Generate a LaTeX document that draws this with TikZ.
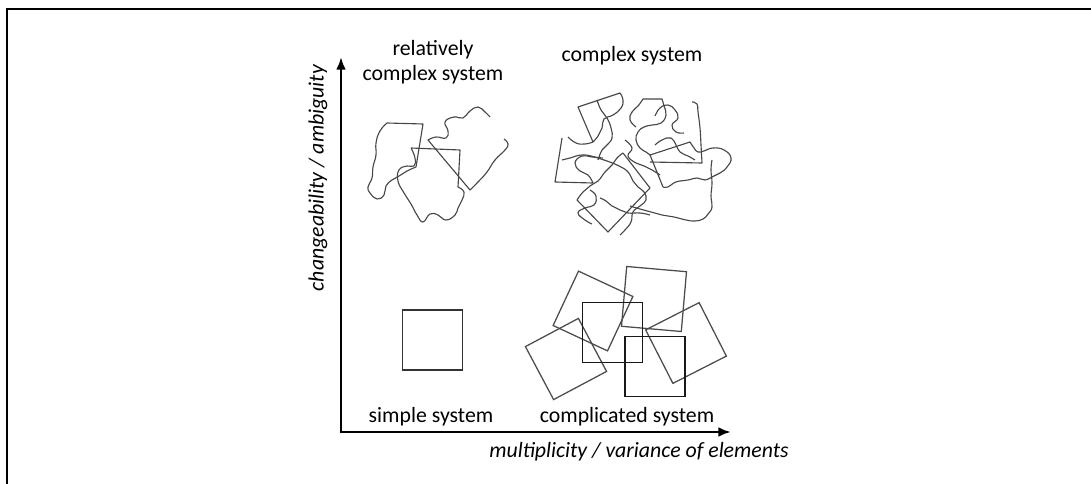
\documentclass[tikz,border=0pt]{standalone}
\usepackage{fontspec}
\setmainfont{Carlito}
\usetikzlibrary{arrows.meta}

\begin{document}
\begin{tikzpicture}[x=0.025cm,y=-0.025cm]

\tikzset{axis/.style = {line width=2.1pt,-{Latex[length=9pt,width=7pt]}}}
\tikzset{caption/.style = {font=\fontsize{15.5}{18}\selectfont, align=center, inner sep=0pt}}
\tikzset{sq/.style = {draw=black!70, line width=0.9pt, minimum size=1.5cm, inner sep=0pt}}
\tikzset{piece/.style = {draw=black!72, line width=0.8pt, line join=round}}
\useasboundingbox (0,0) rectangle (1091,484);
%frame
\draw[line width=1.9pt] (7,484) -- (7,9) -- (1091,9);
%axes
\coordinate (origin) at (341,432);
\coordinate (ytip) at (341,57);
\coordinate (xtip) at (731,432);
\draw[axis] ([xshift=-1pt]origin) -- (xtip);
\draw[axis] ([yshift=-1pt]origin) -- (ytip);
%labels
\node[caption] (relcplx) at (433,62) {relatively\\complex system};
\node[caption] (cplx) at (632,56) {complex system};
\node[caption] (simple) at (431,417) {simple system};
\node[caption] (complicated) at (627,417) {complicated system};
\node[caption, font=\fontsize{15.5}{18}\selectfont\itshape] (xlabel) at (639,452) {multiplicity / variance of elements};
\node[caption, font=\fontsize{15.5}{18}\selectfont\itshape, rotate=90] (ylabel) at (318,178) {changeability / ambiguity};
%simple system
\node[sq, draw=black!80] (single) at (432.5,340) {};
%complicated system
\node[sq, rotate=-25] (cC) at (593,311) {};
\node[sq, rotate=28] (cD) at (566,359) {};
\node[sq, rotate=-5] (cE) at (654,299) {};
\node[sq, rotate=27] (cF) at (686,343) {};
\node[sq, draw=black!90] (cA) at (612.5,332.5) {};
\node[sq, draw=black!90] (cB) at (655,366.5) {};
%relatively complex system
\draw[piece] (387,123) -- (423,124) -- (416,167) -- plot[smooth, tension=0.8] coordinates {(416,167) (407,171) (399,176) (392,180) (386,186) (384,195) (377,199) (370,193) (368,187) (372,178) (373,167) (376,155) (376,143) (380,131) (387,123)};
\draw[piece] (411,148) -- (460,150) -- (458,187) -- plot[smooth, tension=0.8] coordinates {(458,187) (464,192) (462,200) (458,208) (455,215) (446,220) (438,215) (430,214) (423,222) (417,215) (411,204) (404,193) (398,181) (399,170) (407,166) (414,166) (415,158) (411,148)};
\draw[piece] plot[smooth, tension=0.8] coordinates {(504,139) (508,144) (505,150) (495,160) (487,172) (478,182) (470,190)} -- (428,140) -- plot[smooth, tension=0.8] coordinates {(428,140) (436,137) (446,138) (448,131) (445,122) (454,117) (463,118) (470,111) (478,107) (485,112) (490,117)};
%complex system
\draw[piece] (568,137) -- plot[smooth, tension=0.8] coordinates {(568,137) (576,143) (585,144) (593,142)} -- (578,107) -- (620,93) -- plot[smooth, tension=0.8] coordinates {(620,93) (623,100) (621,108) (613,115) (604,119) (602,128) (598,136) (593,142)};
\draw[piece] (562,138) -- (555,182) -- (593,183) -- plot[smooth, tension=0.8] coordinates {(593,183) (588,175) (580,171) (575,163) (582,156) (592,157) (603,158)};
\draw[piece] (623,153) -- (650,188) -- (608,232) -- (577,200) -- plot[smooth, tension=0.8] coordinates {(577,200) (583,192) (590,186) (598,181) (605,172) (612,165) (617,158) (623,153)};
\draw[piece] (663,187) -- (650,155) -- (690,142) -- plot[smooth, tension=0.8] coordinates {(690,142) (694,148) (698,152) (704,151) (713,148) (724,150) (731,158) (727,167) (720,173) (712,177) (705,180) (697,178) (688,180) (676,182) (668,187) (663,187)};
\draw[piece] (650,162) -- (702,163) -- plot[smooth, tension=0.8] coordinates {(702,163) (701,145) (700,128) (698,112) (697,104) (692,102)};
\draw[piece] plot[smooth, tension=0.8] coordinates {(636,127) (630,120) (632,112) (638,106) (643,99)} -- (662,99) -- plot[smooth, tension=0.8] coordinates {(662,99) (664,106) (666,115) (661,123) (652,125) (644,127) (638,132) (636,140) (640,148) (646,152) (650,155)};
\draw[piece] plot[smooth, tension=0.8] coordinates {(712,160) (711,170) (712,183) (711,196) (712,207) (708,214) (703,219) (695,221) (686,220) (674,217) (662,215) (651,212) (640,209) (630,206)};
\draw[piece] plot[smooth, tension=0.8] coordinates {(562,160) (570,158) (582,155) (595,157) (607,161) (619,166) (628,172) (633,181) (638,187) (644,192) (646,200) (640,206) (633,212) (631,222) (625,230) (620,235)};
\draw[piece] plot[smooth, tension=0.8] coordinates {(597,100) (601,110) (607,118) (611,128) (612,138) (607,145) (602,150) (598,160)};
\draw[piece] plot[smooth, tension=0.8] coordinates {(600,198) (606,201) (612,206) (620,210) (628,213) (640,213) (650,215)};
\draw[piece] plot[smooth, tension=0.8] coordinates {(590,190) (596,196) (594,205) (585,208) (578,213) (585,220) (592,224)};
\draw[piece] plot[smooth, tension=0.8] coordinates {(655,145) (662,140) (671,138) (676,145) (680,152) (688,156) (695,160)};
\draw[piece] plot[smooth, tension=0.8] coordinates {(655,116) (660,108) (668,105) (675,110) (678,118) (672,125) (676,132) (684,133)};
\draw[piece] plot[smooth, tension=0.8] coordinates {(625,140) (632,148) (628,156) (636,163) (644,166) (652,170) (660,175)};
\end{tikzpicture}
\end{document}
